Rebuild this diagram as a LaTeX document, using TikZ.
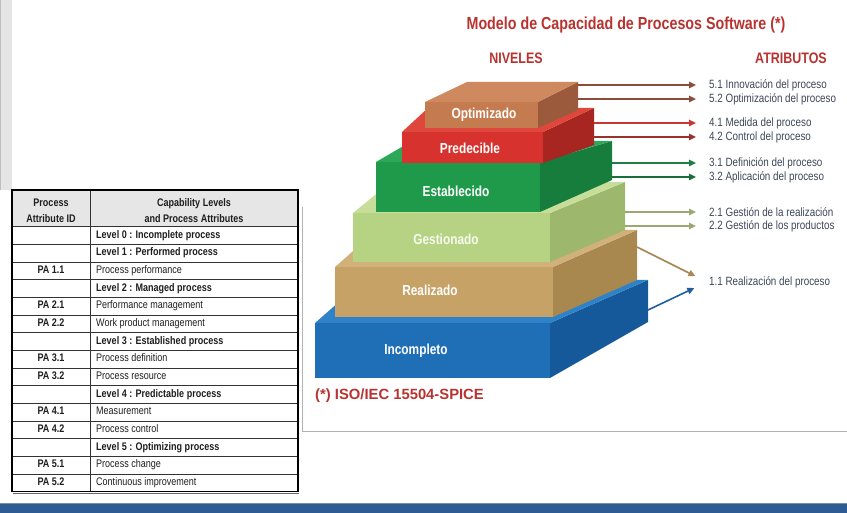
\documentclass[tikz,border=0pt]{standalone}
\usepackage{fontspec}
\setmainfont{Liberation Sans}
\newfontfamily\narrowsans[FakeStretch=0.82]{Liberation Sans}
\usepackage{xcolor}
\usepackage{tikz}
\usetikzlibrary{positioning, arrows.meta}
\definecolor{titlered}{RGB}{184, 51, 48}
\definecolor{labelgray}{RGB}{59, 70, 86}
\definecolor{cellblack}{RGB}{30, 30, 30}
\definecolor{hdrgray}{RGB}{230, 230, 230}
\definecolor{barblue}{RGB}{45, 91, 147}
\definecolor{barline}{RGB}{110, 143, 184}
\definecolor{optfront}{RGB}{196, 123, 79}
\definecolor{opttop}{RGB}{206, 138, 94}
\definecolor{optside}{RGB}{156, 90, 61}
\definecolor{predfront}{RGB}{215, 50, 45}
\definecolor{predtop}{RGB}{223, 70, 60}
\definecolor{predside}{RGB}{168, 38, 33}
\definecolor{estfront}{RGB}{31, 154, 74}
\definecolor{esttop}{RGB}{46, 168, 88}
\definecolor{estside}{RGB}{23, 125, 61}
\definecolor{gesfront}{RGB}{182, 210, 131}
\definecolor{gestop}{RGB}{198, 222, 154}
\definecolor{gesside}{RGB}{157, 183, 109}
\definecolor{reafront}{RGB}{198, 162, 102}
\definecolor{reatop}{RGB}{210, 176, 121}
\definecolor{reaside}{RGB}{169, 136, 79}
\definecolor{incfront}{RGB}{31, 111, 182}
\definecolor{inctop}{RGB}{45, 130, 200}
\definecolor{incside}{RGB}{22, 89, 154}
\definecolor{arrfive}{RGB}{140, 75, 62}
\definecolor{arrfourA}{RGB}{199, 56, 50}
\definecolor{arrfourB}{RGB}{153, 49, 49}
\definecolor{arrthreeA}{RGB}{30, 127, 69}
\definecolor{arrthreeB}{RGB}{27, 109, 59}
\definecolor{arrtwo}{RGB}{156, 168, 115}
\definecolor{arroneR}{RGB}{168, 136, 86}
\definecolor{arroneI}{RGB}{31, 94, 158}

\begin{document}
\begin{tikzpicture}[
    x=1pt, y=-1pt,
    lvltext/.style={text=white, font=\narrowsans\bfseries\fontsize{14.5}{16}\selectfont},
    heading/.style={text=titlered, font=\narrowsans\bfseries\fontsize{15.2}{17}\selectfont},
    attr/.style={anchor=west, inner sep=2pt, text=labelgray, font=\narrowsans\fontsize{12}{13}\selectfont},
    attrarrow/.style={line width=1.6pt, -{Triangle[length=7pt,width=6.5pt]}, shorten >=11pt},
    cell/.style={inner sep=2pt, text height=7.5pt, text depth=2pt, text=cellblack, font=\narrowsans\fontsize{11}{12}\selectfont},
    hdrcell/.style={inner sep=2pt, align=center, text=cellblack, font=\narrowsans\bfseries\fontsize{11}{16}\selectfont},
    tblline/.style={line width=0.6pt, black!80}
]
    \useasboundingbox (0,0) rectangle (847,513);

    % slide edge and frame of the picture
    \fill[black!10] (0,0) rectangle (12,190);
    \draw[black!25] (0.5,0) -- (0.5,190);
    \draw[black!30] (302,207) -- (302,431) -- (847,431);

    % capability table
    \fill[hdrgray] (12,190) rectangle (298,226.7);
    \foreach \k in {0,...,14}
        \draw[tblline] (12,{226.7+\k*17.67}) -- (298,{226.7+\k*17.67});
    \draw[tblline] (90,190) -- (90,491.7);
    \draw[line width=1.3pt] (12,190) rectangle (298,491.7);
    \draw[line width=0.8pt, black!60] (13,493) -- (299,493);

    \node[hdrcell] (hdrid) at (51,211) {Process\\Attribute ID};
    \node[hdrcell] (hdrcap) at (194,211) {Capability Levels\\and Process Attributes};

    \foreach \id/\txt [count=\i] in {
        {}/{\bfseries Level 0 : Incomplete process},
        {}/{\bfseries Level 1 : Performed process},
        PA 1.1/Process performance,
        {}/{\bfseries Level 2 : Managed process},
        PA 2.1/Performance management,
        PA 2.2/Work product management,
        {}/{\bfseries Level 3 : Established process},
        PA 3.1/Process definition,
        PA 3.2/Process resource,
        {}/{\bfseries Level 4 : Predictable process},
        PA 4.1/Measurement,
        PA 4.2/Process control,
        {}/{\bfseries Level 5 : Optimizing process},
        PA 5.1/Process change,
        PA 5.2/Continuous improvement} {
        \node[cell, font=\narrowsans\bfseries\fontsize{11}{12}\selectfont] (pa\i) at (51,{226.7+(\i-0.5)*17.67}) {\id};
        \node[cell, anchor=west] (cap\i) at (94,{226.7+(\i-0.5)*17.67}) {\txt};
    }

    % titles
    \node[text=titlered, font=\narrowsans\bfseries\fontsize{17.4}{20}\selectfont] (title) at (626,25) {Modelo de Capacidad de Procesos Software (*)};
    \node[heading] (niveles) at (516,58) {NIVELES};
    \node[heading] (atributos) at (791,58) {ATRIBUTOS};

    % pyramid of levels, bottom to top
    \fill[incside] (550,323) -- (648,280) -- (648,322) -- (550,378) -- cycle;
    \fill[inctop] (315,323) -- (550,323) -- (648,280) -- (364,280) -- cycle;
    \fill[incfront] (315,323) rectangle (550,378);
    \node[lvltext] (incompleto) at (416,351) {Incompleto};

    \fill[reaside] (553,267) -- (637,230) -- (637,280) -- (553,317) -- cycle;
    \fill[reatop] (335,267) -- (553,267) -- (637,230) -- (377,230) -- cycle;
    \fill[reafront] (335,267) rectangle (553,317);
    \node[lvltext] (realizado) at (430,290) {Realizado};

    \fill[gesside] (550,213) -- (625,182) -- (625,230) -- (550,262) -- cycle;
    \fill[gestop] (353,213) -- (550,213) -- (625,182) -- (391,182) -- cycle;
    \fill[gesfront] (353,213) rectangle (550,262);
    \node[lvltext, text=white!88!gesfront] (gestionado) at (446,239) {Gestionado};

    \fill[estside] (540,162) -- (612,141) -- (612,180) -- (540,212) -- cycle;
    \fill[esttop] (376,162) -- (540,162) -- (612,141) -- (412,141) -- cycle;
    \fill[estfront] (376,162) rectangle (540,212);
    \node[lvltext] (establecido) at (456,191) {Establecido};

    \fill[predside] (543,132) -- (594,108) -- (594,145) -- (543,163) -- cycle;
    \fill[predtop] (402,132) -- (543,132) -- (594,108) -- (428,108) -- cycle;
    \fill[predfront] (402,132) rectangle (543,163);
    \node[lvltext] (predecible) at (470,148) {Predecible};

    \fill[optside] (538,102) -- (578,82) -- (578,110) -- (538,128) -- cycle;
    \fill[opttop] (425,102) -- (538,102) -- (578,82) -- (467,82) -- cycle;
    \fill[optfront] (425,102) rectangle (538,128);
    \node[lvltext] (optimizado) at (484,115) {Optimizado};

    \node[text=titlered, font=\bfseries\fontsize{14.8}{17}\selectfont, anchor=west, inner sep=0pt] (norma) at (315,396) {(*) ISO/IEC 15504-SPICE};

    % attributes
    \node[attr] (lbl51) at (707,85) {5.1 Innovación del proceso};
    \node[attr] (lbl52) at (707,99) {5.2 Optimización del proceso};
    \node[attr] (lbl41) at (707,123) {4.1 Medida del proceso};
    \node[attr] (lbl42) at (707,137) {4.2 Control del proceso};
    \node[attr] (lbl31) at (707,163) {3.1 Definición del proceso};
    \node[attr] (lbl32) at (707,177) {3.2 Aplicación del proceso};
    \node[attr] (lbl21) at (707,212) {2.1 Gestión de la realización};
    \node[attr] (lbl22) at (707,226) {2.2 Gestión de los productos};
    \node[attr] (lbl11) at (707,282) {1.1 Realización del proceso};

    \coordinate (a51) at (578,85);
    \coordinate (a52) at (578,99);
    \coordinate (a41) at (594,123);
    \coordinate (a42) at (594,137);
    \coordinate (a31) at (612,163);
    \coordinate (a32) at (612,177);
    \coordinate (a21) at (625,212);
    \coordinate (a22) at (625,226);
    \coordinate (a1r) at (637,247);
    \coordinate (a1i) at (648,310);

    \draw[attrarrow, draw=arrfive, fill=arrfive] (a51) -- (lbl51.west);
    \draw[attrarrow, draw=arrfive, fill=arrfive] (a52) -- (lbl52.west);
    \draw[attrarrow, draw=arrfourA, fill=arrfourA] (a41) -- (lbl41.west);
    \draw[attrarrow, draw=arrfourB, fill=arrfourB] (a42) -- (lbl42.west);
    \draw[attrarrow, draw=arrthreeA, fill=arrthreeA] (a31) -- (lbl31.west);
    \draw[attrarrow, draw=arrthreeB, fill=arrthreeB] (a32) -- (lbl32.west);
    \draw[attrarrow, draw=arrtwo, fill=arrtwo] (a21) -- (lbl21.west);
    \draw[attrarrow, draw=arrtwo, fill=arrtwo] (a22) -- (lbl22.west);
    \draw[attrarrow, shorten >=13pt, draw=arroneR, fill=arroneR] (a1r) -- (lbl11.west);
    \draw[attrarrow, shorten >=14pt, draw=arroneI, fill=arroneI] (a1i) -- (lbl11.west);

    % bottom bar
    \fill[barblue] (0,504) rectangle (847,513);
    \draw[barline, line width=1pt] (0,503.5) -- (847,503.5);
\end{tikzpicture}
\end{document}
